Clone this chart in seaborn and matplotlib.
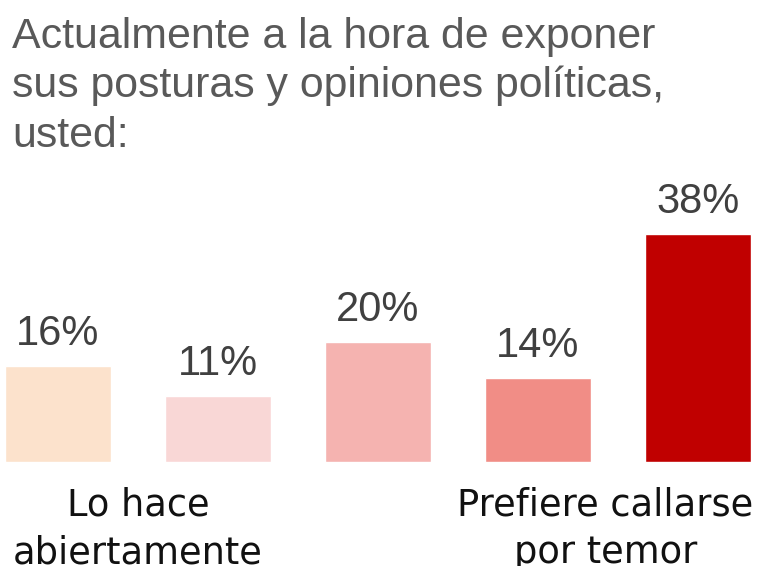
import matplotlib
matplotlib.use("Agg")
import matplotlib.pyplot as plt
import seaborn as sns
import pandas as pd

# data
positions = ["1", "2", "3", "4", "5"]
values = [16, 11, 20, 14, 38]
bar_colors = ["#FCE2CC", "#F9D7D6", "#F5B3B0", "#F18D86", "#C00000"]
title_lines = ["Actualmente a la hora de exponer",
               "sus posturas y opiniones políticas,",
               "usted:"]
end_labels = [["Lo hace", "abiertamente"], ["Prefiere callarse", "por temor"]]
end_label_x = [0.5, 3.42]

sns.set_theme(style="white")
plt.rcParams["font.family"] = ["Liberation Sans", "DejaVu Sans"]

df = pd.DataFrame({"pos": positions, "value": values})

W, H = 757, 566
fig = plt.figure(figsize=(W / 100, H / 100), dpi=100)
ax = fig.add_axes([0, 104 / H, 1, 240 / H])

sns.barplot(data=df, x="pos", y="value", hue="pos", palette=bar_colors,
            width=0.66, legend=False, ax=ax, saturation=1)

for i, v in enumerate(values):
    ax.text(i, v + 2.0, f"{v}%", ha="center", va="bottom",
            fontsize=30, color="#404040")

ax.set_xlim(-58 / 160, 4 + 59 / 160)
ax.set_ylim(0, 40)
ax.axis("off")

# title, one line per baseline
for k, line in enumerate(title_lines):
    fig.text(12 / W, 1 - (48 + 49.5 * k) / H, line, ha="left", va="baseline",
             fontsize=30.9, color="#595959")

# labels under the first and last pairs of bars (cut at the bottom edge, as in the reference)
for x, lines in zip(end_label_x, end_labels):
    xf = (x + 58 / 160) / (4 + 117 / 160)
    for k, line in enumerate(lines):
        fig.text(xf, 1 - (516 + 47 * k) / H, line, ha="center", va="baseline",
                 fontsize=26.5, color="#111111", family=["DejaVu Sans"])

fig.savefig("out.png", dpi=100)
